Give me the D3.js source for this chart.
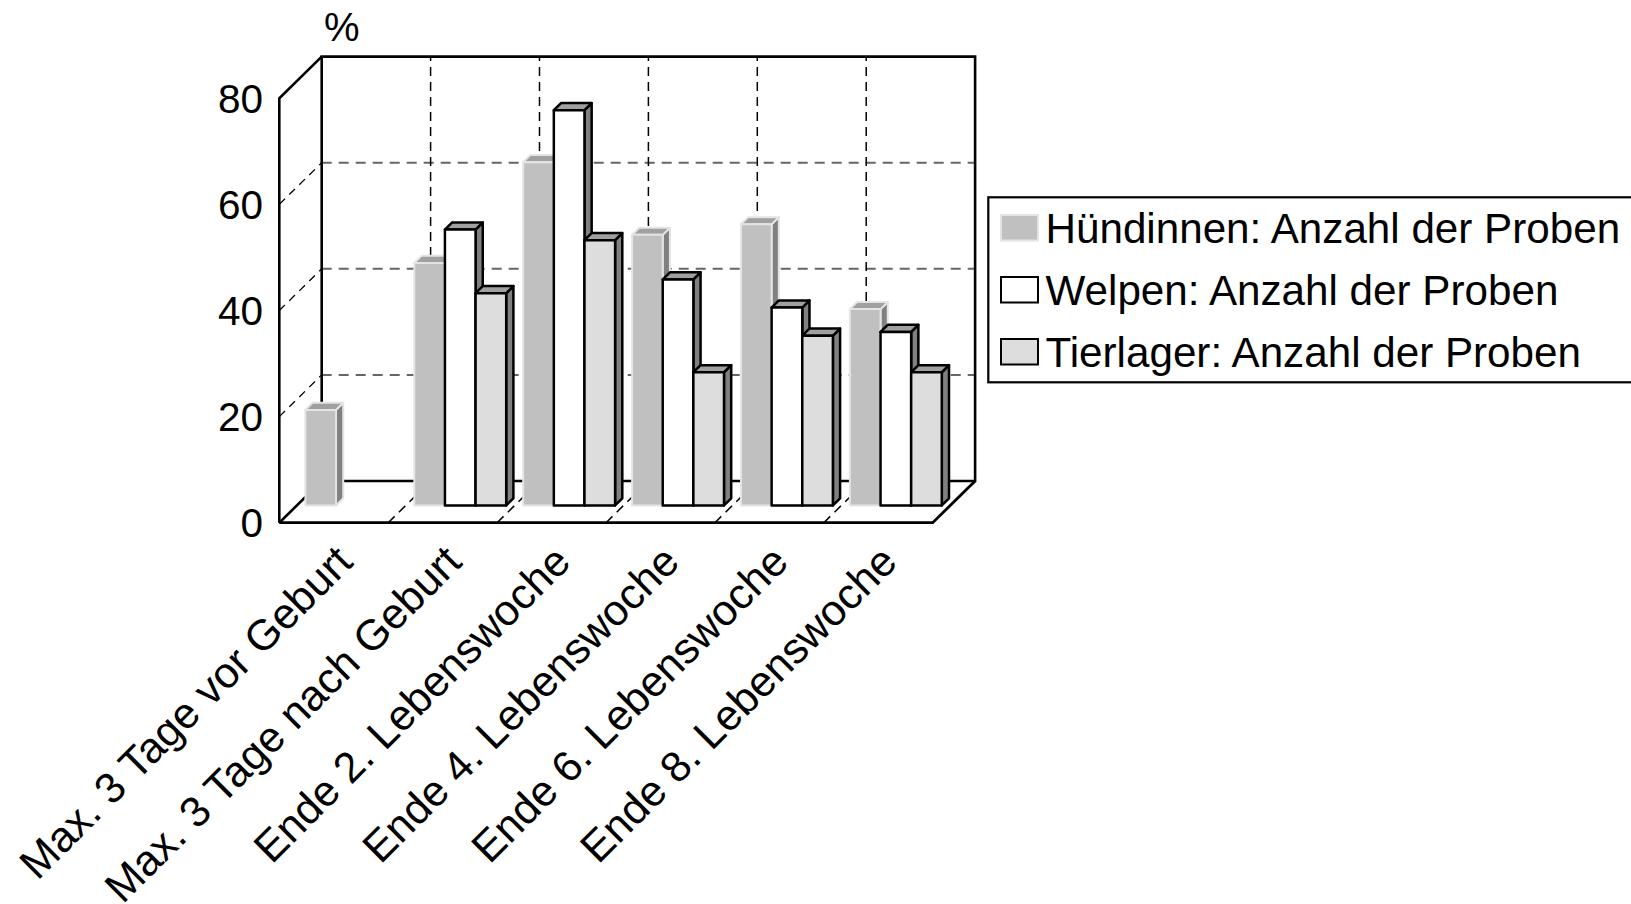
<!DOCTYPE html>
<html>
<head>
<meta charset="utf-8">
<script src="https://cdn.jsdelivr.net/npm/d3@7"></script>
<style>
  html, body { margin: 0; padding: 0; background: #fff; }
  svg { display: block; }
  text { font-family: "Liberation Sans", Arial, sans-serif; fill: #000; }
</style>
</head>
<body>
<svg id="chart" width="1631" height="904"></svg>
<script>
// ---- data ----
const categories = [
  "Max. 3 Tage vor Geburt",
  "Max. 3 Tage nach Geburt",
  "Ende 2. Lebenswoche",
  "Ende 4. Lebenswoche",
  "Ende 6. Lebenswoche",
  "Ende 8. Lebenswoche"
];
const seriesNames = [
  "Hündinnen: Anzahl der Proben",
  "Welpen: Anzahl der Proben",
  "Tierlager: Anzahl der Proben"
];
const huendinnen = [18, 45.7, 64.7, 51, 53, 37];
const welpen     = [null, 52, 74.5, 42.6, 37.3, 32.7];
const tierlager  = [null, 40, 50, 25.1, 32, 25.1];
const yTicks = [0, 20, 40, 60, 80];

// ---- layout ----
const svg = d3.select("#chart");
const DX = 42.4, DY = 41.7;           // 3D depth offset (back wall relative to front)
const x0 = 279.3, x1 = 932.7;
const y = d3.scaleLinear().domain([0, 80]).range([522.7, 98.3]);
const x = d3.scaleBand().domain(categories).range([x0, x1]).padding(0);
const xs = d3.scaleBand().domain(seriesNames).range([8.5, 100.4]).padding(0);
const P = (px, py, t) => [px + t * DX, py - t * DY];

const styles = [
  { front: "#c0c0c0", stroke: "#e4e4e4", top: "#a0a0a0", side: "#808080", sw: 2 },
  { front: "#ffffff", stroke: "#000", top: "#a0a0a0", side: "#808080", sw: 2.5 },
  { front: "#dddddd", stroke: "#000", top: "#a0a0a0", side: "#808080", sw: 2.5 }
];

const g = svg.append("g");
const line = d3.line();

// back wall horizontal gridlines
yTicks.filter(v => v > 0 && v < 80).forEach(v => {
  const a = P(x0, y(v), 1), b = P(x1, y(v), 1);
  g.append("path").attr("d", line([a, b])).attr("stroke", "#666").attr("stroke-width", 2)
    .attr("stroke-dasharray", "10,7").attr("fill", "none");
  // left side wall diagonals
  g.append("path").attr("d", line([[x0, y(v)], P(x0, y(v), 1)])).attr("stroke", "#000")
    .attr("stroke-width", 1.3).attr("stroke-dasharray", "8,6").attr("fill", "none");
});
// back wall vertical gridlines & floor diagonals
categories.slice(1).forEach(c => {
  const xv = x(c);
  g.append("path").attr("d", line([P(xv, y(0), 1), P(xv, y(80), 1)])).attr("stroke", "#000")
    .attr("stroke-width", 1.5).attr("stroke-dasharray", "9,6").attr("fill", "none");
  g.append("path").attr("d", line([[xv, y(0)], P(xv, y(0), 1)])).attr("stroke", "#000")
    .attr("stroke-width", 1.5).attr("stroke-dasharray", "9,6").attr("fill", "none");
});
// walls outline
const solid = (pts, w) => g.append("path").attr("d", line(pts)).attr("stroke", "#000")
  .attr("stroke-width", w).attr("fill", "none").attr("stroke-linejoin", "miter");
solid([P(x0, y(0), 1), P(x0, y(80), 1), P(x1, y(80), 1), P(x1, y(0), 1), P(x0, y(0), 1)], 2.6);
solid([[x0, y(0)], [x0, y(80)], P(x0, y(80), 1)], 2.6);
solid([[x0, y(0)], [x1, y(0)], P(x1, y(0), 1)], 2.8);
solid([[x0, y(0)], P(x0, y(0), 1)], 2.6);

// bars
const t0 = 0.415, t1 = 0.585;
const allSeries = [huendinnen, welpen, tierlager];
categories.forEach((c, ci) => {
  allSeries.forEach((arr, si) => {
    const v = arr[ci];
    if (v == null) return;
    const st = styles[si];
    const bx0 = x(c) + xs(seriesNames[si]);
    const bx1 = bx0 + xs.bandwidth();
    const yb = y(0), yt = y(v);
    const f0 = P(bx0, yt, t0), f1 = P(bx1, yt, t0), f2 = P(bx1, yb, t0), f3 = P(bx0, yb, t0);
    const b0 = P(bx0, yt, t1), b1 = P(bx1, yt, t1), b2 = P(bx1, yb, t1);
    const bg = g.append("g");
    bg.append("path").attr("d", line([f1, b1, b2, f2]) + "Z").attr("fill", st.side)
      .attr("stroke", st.stroke).attr("stroke-width", st.sw).attr("stroke-linejoin", "round");
    bg.append("path").attr("d", line([f0, b0, b1, f1]) + "Z").attr("fill", st.top)
      .attr("stroke", st.stroke).attr("stroke-width", st.sw).attr("stroke-linejoin", "round");
    bg.append("path").attr("d", line([f0, f1, f2, f3]) + "Z").attr("fill", st.front)
      .attr("stroke", st.stroke).attr("stroke-width", st.sw).attr("stroke-linejoin", "round");
  });
});

// y tick labels
g.selectAll("text.ytick").data(yTicks).join("text").attr("class", "ytick")
  .attr("x", 263).attr("y", d => y(d)).attr("dy", "0.36em")
  .attr("text-anchor", "end").attr("font-size", 40.5).text(d => d);
g.append("text").attr("x", 324).attr("y", 41).attr("font-size", 40).text("%");

// x labels
g.selectAll("text.xl").data(categories).join("text").attr("class", "xl")
  .attr("text-anchor", "end").attr("font-size", 43)
  .attr("transform", d => `translate(${x(d) + x.bandwidth() / 2 + 21},564) rotate(-45)`)
  .text(d => d);

// legend
const lg = svg.append("g");
lg.append("rect").attr("x", 988.3).attr("y", 197.3).attr("width", 700).attr("height", 185)
  .attr("fill", "#fff").attr("stroke", "#000").attr("stroke-width", 2.2);
seriesNames.forEach((s, i) => {
  const yy = 215 + i * 62;
  const st = styles[i];
  lg.append("rect").attr("x", 1001).attr("y", yy).attr("width", 37).attr("height", 25.5)
    .attr("fill", st.front).attr("stroke", i === 0 ? "#e4e4e4" : "#000").attr("stroke-width", 2);
  lg.append("text").attr("x", 1045.5).attr("y", yy + 28).attr("font-size", 42.2).text(s);
});
</script>
</body>
</html>
